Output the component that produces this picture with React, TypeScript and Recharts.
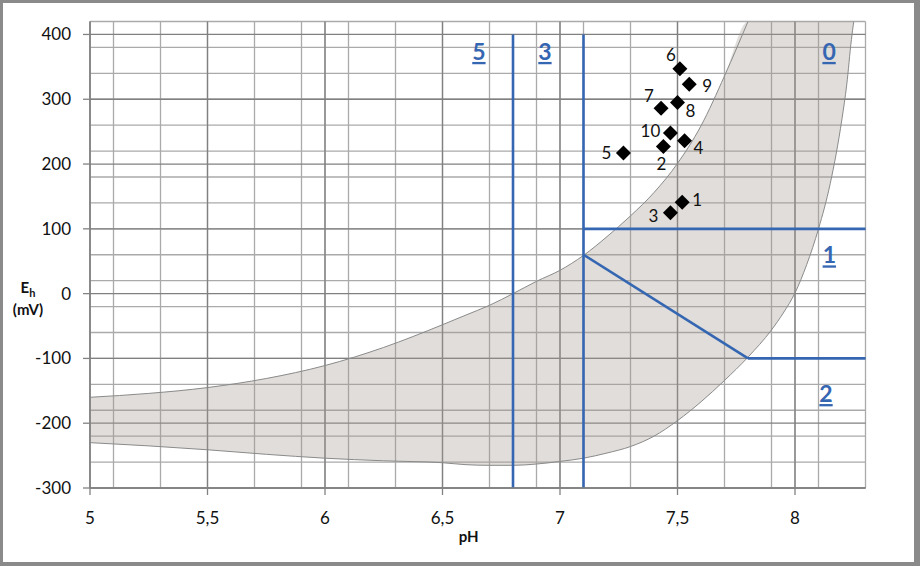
import React from 'react';
import { ComposedChart, XAxis, YAxis, CartesianGrid, Area, Line, Scatter, ReferenceLine } from 'recharts';

// ---- axis ticks ----
const phTicks = [5, 5.5, 6, 6.5, 7, 7.5, 8];
const ehTicks = [-300, -200, -100, 0, 100, 200, 300, 400];
const phMinor = Array.from({ length: 34 }, (_, i) => Math.round((5 + i * 0.1) * 10) / 10);
const ehMinor = Array.from({ length: 37 }, (_, i) => -300 + i * 20);

// ---- shaded stability band ----
const bandPH = [5, 5.25, 5.5, 5.75, 6, 6.25, 6.5, 6.6, 6.7, 6.8, 6.9, 7, 7.1, 7.2, 7.3, 7.4, 7.5, 7.6, 7.7, 7.8, 7.9, 7.95, 8, 8.05, 8.1, 8.15, 8.2, 8.22, 8.24, 8.25];
const bandLower = [-230, -235, -241, -248, -254, -258, -261, -264, -265, -265, -263, -259, -254, -246, -236, -220, -196, -167, -134, -98, -56, -30, 1, 45, 100, 170, 270, 322, 392, 420];
const bandUpper = [-160, -154, -145, -131, -111, -83, -48, -33, -18, 0, 19, 36, 59, 88, 120, 156, 201, 259, 336, 420, 420, 420, 420, 420, 420, 420, 420, 420, 420, 420];
const upperEdgeCount = 20; // upper curve visible up to pH 7.8

// ---- sample points ----
const sampleIds = ['1', '2', '3', '4', '5', '6', '7', '8', '9', '10'];
const samplePH = [7.52, 7.44, 7.47, 7.53, 7.27, 7.51, 7.43, 7.5, 7.55, 7.47];
const sampleEh = [141, 227, 125, 236, 217, 347, 286, 295, 323, 248];

// ---- zone boundary lines ----
const boundaryFrom = [
  { pH: 6.8, Eh: -300 },
  { pH: 7.1, Eh: -300 },
  { pH: 7.1, Eh: 100 },
  { pH: 7.1, Eh: 60 },
  { pH: 7.8, Eh: -100 },
];
const boundaryTo = [
  { pH: 6.8, Eh: 400 },
  { pH: 7.1, Eh: 400 },
  { pH: 8.3, Eh: 100 },
  { pH: 7.8, Eh: -100 },
  { pH: 8.3, Eh: -100 },
];

// ---- zone labels ----
const zoneText = ['5', '3', '0', '1', '2'];
const zonePH = [6.655, 6.936, 8.145, 8.146, 8.132];
const zoneEh = [373, 373, 373, 59, -155];

// label placement around each diamond (style, not data)
const LABEL_PLACE: Record<string, { dx: number; dy: number }> = {
  '1': { dx: 15, dy: -2 },
  '2': { dx: -2, dy: 17 },
  '3': { dx: -17, dy: 3 },
  '4': { dx: 14, dy: 7 },
  '5': { dx: -17, dy: 0 },
  '6': { dx: -9, dy: -14 },
  '7': { dx: -12, dy: -12 },
  '8': { dx: 13, dy: 9 },
  '9': { dx: 18, dy: 2 },
  '10': { dx: -20, dy: -2 },
};

const bandData = bandPH.map((p, i) => ({ pH: p, lo: bandLower[i], hi: bandUpper[i] }));
const lowerEdge = bandPH.map((p, i) => ({ pH: p, Eh: bandLower[i] }));
const upperEdge = bandPH.slice(0, upperEdgeCount).map((p, i) => ({ pH: p, Eh: bandUpper[i] }));
const samples = sampleIds.map((id, i) => ({ id, pH: samplePH[i], Eh: sampleEh[i] }));
const zones = zoneText.map((t, i) => ({ text: t, pH: zonePH[i], Eh: zoneEh[i] }));

const FONT = "Lato, 'Open Sans', sans-serif";
const BLUE = '#3566b2';
const AXIS = '#828282';

const DiamondShape = (props: any) => {
  const { cx, cy, payload } = props;
  if (cx == null || cy == null) return null;
  const s = 7.5;
  const place = LABEL_PLACE[payload.id] || { dx: 0, dy: 0 };
  return (
    <g>
      <polygon points={`${cx},${cy - s} ${cx + s},${cy} ${cx},${cy + s} ${cx - s},${cy}`} fill="#000" />
      <text
        x={cx + place.dx}
        y={cy + place.dy + 6}
        textAnchor="middle"
        fontSize={17}
        fontFamily={FONT}
        fill="#111"
      >
        {payload.id}
      </text>
    </g>
  );
};

const ZoneShape = (props: any) => {
  const { cx, cy, payload } = props;
  if (cx == null || cy == null) return null;
  return (
    <text
      x={cx}
      y={cy + 8}
      textAnchor="middle"
      fontSize={23}
      fontWeight="bold"
      fontFamily={FONT}
      fill={BLUE}
      style={{ textDecoration: 'underline' }}
    >
      {payload.text}
    </text>
  );
};

const YTitle = (props: any) => {
  const vb = props.viewBox || { x: 30, y: 21.5, width: 60, height: 466.5 };
  const x = vb.x - 2;
  const y0 = vb.y + vb.height * 0.582;
  return (
    <g fontFamily={FONT} fontWeight="bold" fill="#111">
      <text x={x} y={y0} textAnchor="middle" fontSize={15}>
        <tspan>E</tspan>
        <tspan fontSize={11} dy={4}>h</tspan>
      </text>
      <text x={x} y={y0 + 22} textAnchor="middle" fontSize={15}>(mV)</text>
    </g>
  );
};

const XTitle = (props: any) => {
  const vb = props.viewBox || { x: 90, y: 488, width: 775.5, height: 60 };
  return (
    <text
      x={vb.x + vb.width / 2 - 9}
      y={vb.y + 54}
      textAnchor="middle"
      fontSize={15}
      fontWeight="bold"
      fontFamily={FONT}
      fill="#111"
    >
      pH
    </text>
  );
};

export default function App() {
  return (
    <div style={{ position: 'absolute', left: 0, top: 0, width: 920, height: 566, background: '#fff' }}>
      <ComposedChart
        width={920}
        height={566}
        margin={{ top: 21.5, right: 54.5, bottom: 18, left: 30 }}
        style={{ fontFamily: FONT }}
      >
        <CartesianGrid
          verticalValues={phMinor}
          horizontalValues={ehMinor}
          stroke="#aaaaaa"
          strokeWidth={1.3}
        />
        <CartesianGrid
          verticalValues={phTicks}
          horizontalValues={ehTicks}
          stroke="#808080"
          strokeWidth={1.3}
        />
        <XAxis
          type="number"
          dataKey="pH"
          domain={[5, 8.3]}
          ticks={phTicks}
          allowDataOverflow
          height={60}
          tickSize={7}
          tickMargin={17}
          stroke={AXIS}
          strokeWidth={1.3}
          tick={{ fill: '#111', fontSize: 17, fontFamily: FONT }}
          tickFormatter={(v: number) => String(v).replace('.', ',')}
          label={{ content: XTitle }}
        />
        <YAxis
          type="number"
          domain={[-300, 420]}
          ticks={ehTicks}
          allowDataOverflow
          width={60}
          tickSize={7}
          tickMargin={12}
          stroke={AXIS}
          strokeWidth={1.3}
          tick={{ fill: '#111', fontSize: 17, fontFamily: FONT }}
          label={{ content: YTitle }}
        />
        <Area
          data={bandData}
          dataKey={(d: any) => [d.lo, d.hi]}
          type="monotone"
          stroke="none"
          fill="#a09890"
          fillOpacity={0.33}
          isAnimationActive={false}
        />
        <Line
          data={upperEdge}
          dataKey="Eh"
          type="monotone"
          stroke="#8a8a8a"
          strokeWidth={1}
          dot={false}
          activeDot={false}
          isAnimationActive={false}
        />
        <Line
          data={lowerEdge}
          dataKey="Eh"
          type="monotone"
          stroke="#8a8a8a"
          strokeWidth={1}
          dot={false}
          activeDot={false}
          isAnimationActive={false}
        />
        {boundaryFrom.map((a, i) => (
          <ReferenceLine
            key={i}
            segment={[{ x: a.pH, y: a.Eh }, { x: boundaryTo[i].pH, y: boundaryTo[i].Eh }]}
            stroke={BLUE}
            strokeWidth={2.6}
            ifOverflow="visible"
          />
        ))}
        <Scatter data={zones} dataKey="Eh" shape={ZoneShape} isAnimationActive={false} />
        <Scatter data={samples} dataKey="Eh" shape={DiamondShape} isAnimationActive={false} />
      </ComposedChart>
      <div
        style={{
          position: 'absolute',
          left: 0,
          top: 0,
          width: 920,
          height: 566,
          boxSizing: 'border-box',
          borderStyle: 'solid',
          borderColor: '#8a8a8a',
          borderWidth: '3px 6px 4px 3px',
          pointerEvents: 'none',
        }}
      />
    </div>
  );
}
